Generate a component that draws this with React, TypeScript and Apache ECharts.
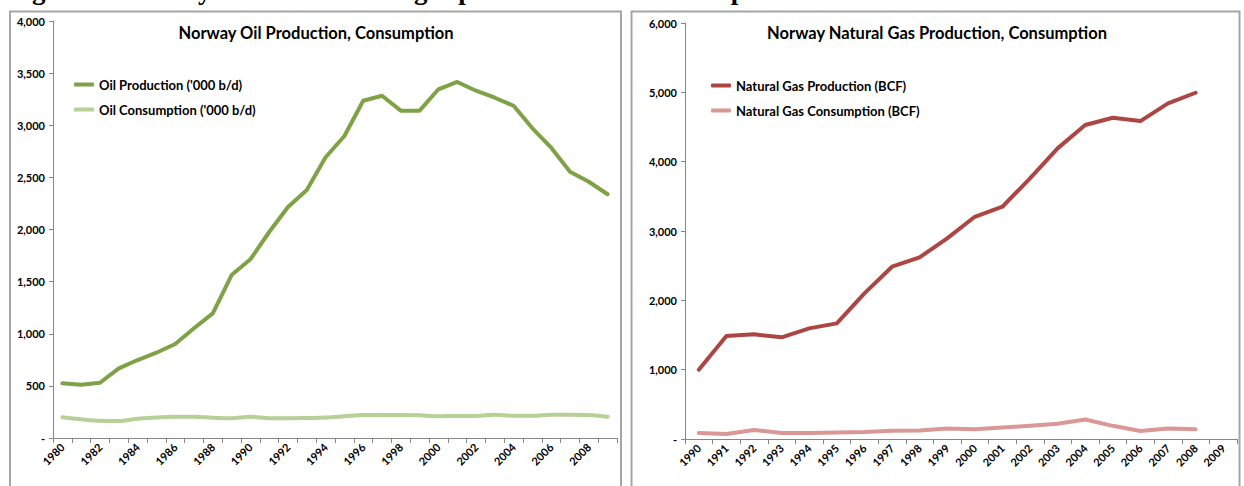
import React, { useEffect, useRef } from "react";
import * as echarts from "echarts";

const oilYears = [
  "1980","1981","1982","1983","1984","1985","1986","1987","1988","1989",
  "1990","1991","1992","1993","1994","1995","1996","1997","1998","1999",
  "2000","2001","2002","2003","2004","2005","2006","2007","2008","2009",
];
const oilProduction = [
  525, 511, 530, 668, 748, 818, 902, 1052, 1196, 1563,
  1714, 1976, 2216, 2379, 2693, 2897, 3235, 3283, 3140, 3140,
  3345, 3415, 3331, 3264, 3187, 2971, 2785, 2554, 2458, 2338,
];
const oilConsumption = [
  198, 180, 165, 163, 185, 196, 204, 204, 194, 189,
  204, 190, 189, 192, 196, 208, 220, 220, 220, 218,
  208, 212, 212, 224, 214, 214, 224, 224, 220, 204,
];
const gasYears = [
  "1990","1991","1992","1993","1994","1995","1996","1997","1998","1999",
  "2000","2001","2002","2003","2004","2005","2006","2007","2008","2009",
];
const gasProduction = [
  1000, 1485, 1510, 1466, 1596, 1668, 2101, 2485, 2620, 2894,
  3205, 3350, 3759, 4192, 4528, 4633, 4585, 4840, 4994, null,
];
const gasConsumption = [
  86, 72, 130, 88, 88, 95, 100, 120, 122, 150,
  140, 165, 190, 220, 281, 190, 115, 150, 140, null,
];

const FONT = "Lato";
const fmt = (v: number) => (v === 0 ? "-" : v.toLocaleString("en-US"));

export default function App() {
  const ref = useRef<HTMLDivElement>(null);
  useEffect(() => {
    const chart = echarts.init(ref.current!, null, { renderer: "svg" });
    const axisLabel = { color: "#000", fontFamily: FONT, fontWeight: "bold" as const, fontSize: 11 };
    const axisLine = { show: true, lineStyle: { color: "#868686", width: 1 } };
    const legendText = { fontFamily: FONT, fontWeight: "bold" as const, fontSize: 13, color: "#000" };
    chart.setOption({
      animation: false,
      backgroundColor: "#fff",
      textStyle: { fontFamily: FONT },
      graphic: [
        {
          type: "text",
          left: 8,
          top: -24,
          style: {
            text: "Figure 4: Norway's oil and natural gas production and consumption",
            font: 'bold 27px "Liberation Serif"',
            fill: "#000",
          },
          z: 0,
        },
        {
          type: "rect",
          shape: { x: 10, y: 11.5, width: 611, height: 490 },
          style: { fill: "none", stroke: "#a6a6a6", lineWidth: 2 },
          silent: true,
          z: 10,
        },
        {
          type: "rect",
          shape: { x: 631.5, y: 11.5, width: 608, height: 490 },
          style: { fill: "none", stroke: "#a6a6a6", lineWidth: 2 },
          silent: true,
          z: 10,
        },
      ],
      title: [
        {
          text: "Norway Oil Production, Consumption",
          left: 311,
          top: 19,
          textAlign: "center",
          textStyle: { fontFamily: FONT, fontWeight: "bold", fontSize: 16.5, color: "#000" },
        },
        {
          text: "Norway Natural Gas Production, Consumption",
          left: 932,
          top: 19,
          textAlign: "center",
          textStyle: { fontFamily: FONT, fontWeight: "bold", fontSize: 16.5, color: "#000" },
        },
      ],
      legend: [
        {
          data: ["Oil Production ('000 b/d)", "Oil Consumption ('000 b/d)"],
          orient: "vertical",
          left: 69,
          top: 73,
          icon: "roundRect",
          itemWidth: 20,
          itemHeight: 4,
          itemGap: 12,
          textStyle: legendText,
        },
        {
          data: ["Natural Gas Production (BCF)", "Natural Gas Consumption (BCF)"],
          orient: "vertical",
          left: 706,
          top: 74,
          icon: "roundRect",
          itemWidth: 20,
          itemHeight: 4,
          itemGap: 12,
          textStyle: legendText,
        },
      ],
      grid: [
        { left: 53, right: 627, top: 21, bottom: 48, containLabel: false },
        { left: 685, right: 7, top: 23, bottom: 47, containLabel: false },
      ],
      xAxis: [
        {
          type: "category",
          gridIndex: 0,
          data: oilYears,
          boundaryGap: true,
          axisLine,
          axisTick: { show: true, interval: 0, length: 5, lineStyle: { color: "#868686" } },
          axisLabel: { ...axisLabel, fontSize: 11, rotate: 45, interval: 1, margin: 7 },
        },
        {
          type: "category",
          gridIndex: 1,
          data: gasYears,
          boundaryGap: true,
          axisLine,
          axisTick: { show: true, interval: 0, length: 5, lineStyle: { color: "#868686" } },
          axisLabel: { ...axisLabel, fontSize: 11, rotate: 45, interval: 0, margin: 7 },
        },
      ],
      yAxis: [
        {
          type: "value",
          gridIndex: 0,
          min: 0,
          max: 4000,
          interval: 500,
          axisLine,
          axisTick: { show: true, length: 4, lineStyle: { color: "#868686" } },
          splitLine: { show: false },
          axisLabel: { ...axisLabel, margin: 8, formatter: fmt },
        },
        {
          type: "value",
          gridIndex: 1,
          min: 0,
          max: 6000,
          interval: 1000,
          axisLine,
          axisTick: { show: true, length: 4, lineStyle: { color: "#868686" } },
          splitLine: { show: false },
          axisLabel: { ...axisLabel, margin: 8, formatter: fmt },
        },
      ],
      series: [
        {
          name: "Oil Production ('000 b/d)",
          type: "line",
          xAxisIndex: 0,
          yAxisIndex: 0,
          data: oilProduction,
          showSymbol: false,
          symbol: "none",
          color: "#7fa247",
          lineStyle: { width: 4, color: "#7fa247", cap: "round", join: "round" },
          z: 3,
        },
        {
          name: "Oil Consumption ('000 b/d)",
          type: "line",
          xAxisIndex: 0,
          yAxisIndex: 0,
          data: oilConsumption,
          showSymbol: false,
          symbol: "none",
          smooth: 0.3,
          color: "#b7d097",
          lineStyle: { width: 4, color: "#b7d097", cap: "round", join: "round" },
          z: 3,
        },
        {
          name: "Natural Gas Production (BCF)",
          type: "line",
          xAxisIndex: 1,
          yAxisIndex: 1,
          data: gasProduction,
          showSymbol: false,
          symbol: "none",
          color: "#ad4643",
          lineStyle: { width: 4, color: "#ad4643", cap: "round", join: "round" },
          z: 3,
        },
        {
          name: "Natural Gas Consumption (BCF)",
          type: "line",
          xAxisIndex: 1,
          yAxisIndex: 1,
          data: gasConsumption,
          showSymbol: false,
          symbol: "none",
          color: "#d99795",
          lineStyle: { width: 4, color: "#d99795", cap: "round", join: "round" },
          z: 3,
        },
      ],
    });
    return () => chart.dispose();
  }, []);
  return (
    <div
      ref={ref}
      style={{ position: "fixed", left: 0, top: 0, width: 1244, height: 486 }}
    />
  );
}
